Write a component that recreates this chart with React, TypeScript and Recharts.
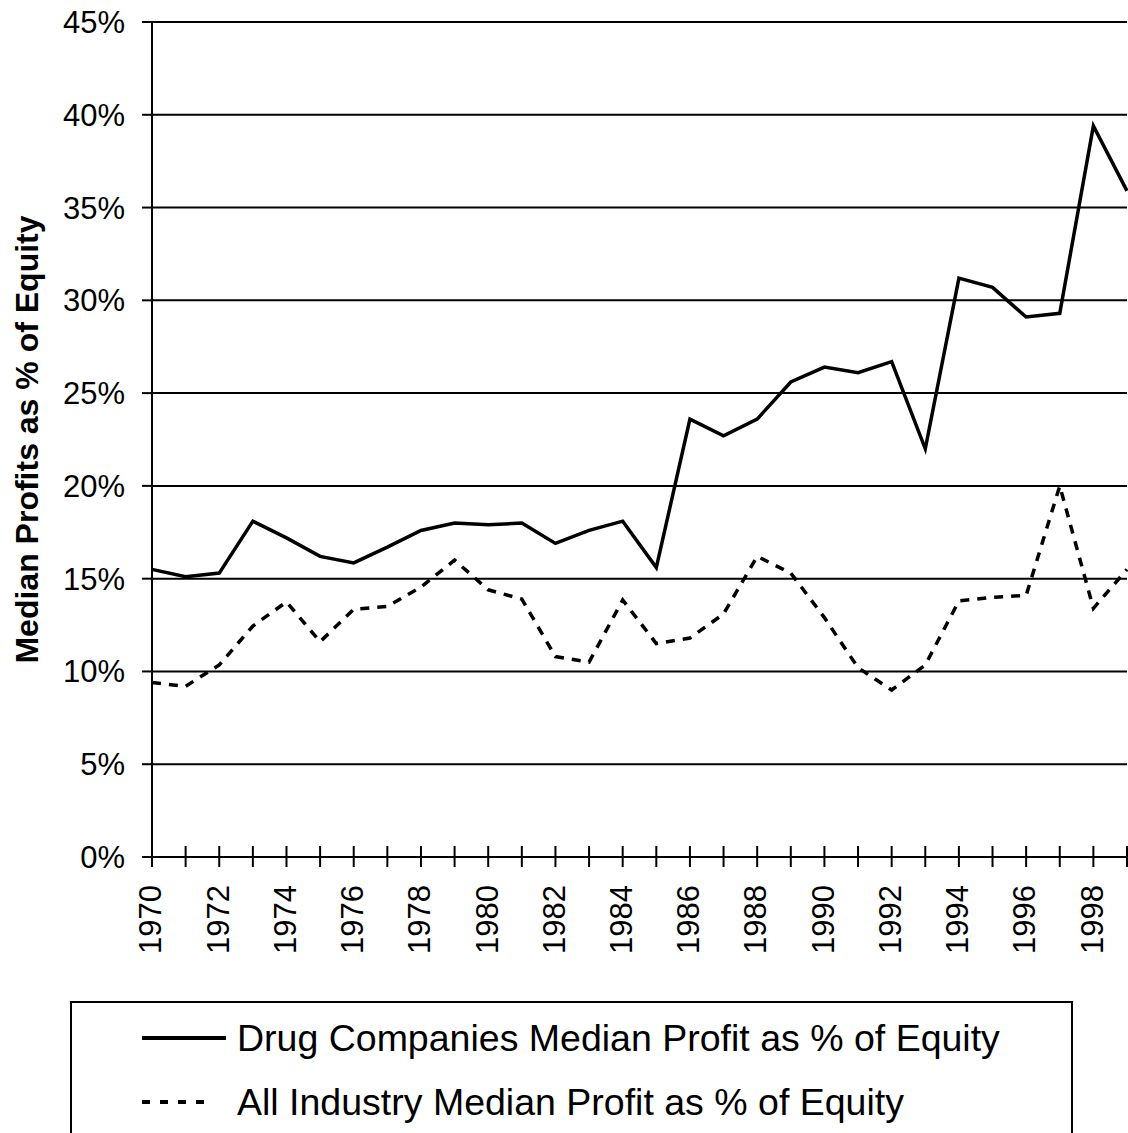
import React from 'react'
import { LineChart, Line, XAxis, YAxis, CartesianGrid } from 'recharts'

const years = [
  1970, 1971, 1972, 1973, 1974, 1975, 1976, 1977, 1978, 1979,
  1980, 1981, 1982, 1983, 1984, 1985, 1986, 1987, 1988, 1989,
  1990, 1991, 1992, 1993, 1994, 1995, 1996, 1997, 1998, 1999,
]

const drugProfit = [
  15.5, 15.1, 15.3, 18.1, 17.2, 16.2, 15.85, 16.7, 17.6, 18.0,
  17.9, 18.0, 16.9, 17.6, 18.1, 15.6, 23.6, 22.7, 23.6, 25.6,
  26.4, 26.1, 26.7, 22.0, 31.2, 30.7, 29.1, 29.3, 39.4, 35.9,
]

const industryProfit = [
  9.4, 9.2, 10.35, 12.45, 13.75, 11.6, 13.35, 13.5, 14.55, 16.0,
  14.4, 13.9, 10.8, 10.5, 13.85, 11.5, 11.8, 13.1, 16.2, 15.3,
  12.9, 10.2, 9.0, 10.35, 13.8, 14.0, 14.1, 20.0, 13.4, 15.5,
]

const yTicks = [0, 5, 10, 15, 20, 25, 30, 35, 40, 45]

const drugLabel = 'Drug Companies Median Profit as % of Equity'
const industryLabel = 'All Industry Median Profit as % of Equity'

const data = years.map((year, i) => ({
  year,
  drug: drugProfit[i],
  industry: industryProfit[i],
}))

const font = '"Liberation Sans", Arial, sans-serif'

const YearTick = (props: any) => {
  const { x, y, payload } = props
  const showLabel = payload.value % 2 === 0
  return (
    <g>
      <line x1={x} x2={x} y1={y - 11} y2={y + 10} stroke="#000" strokeWidth={2} />
      {showLabel && (
        <text
          x={x}
          y={y + 28}
          transform={`rotate(-90, ${x}, ${y + 28})`}
          textAnchor="end"
          dy="0.3em"
          fontSize={31}
          fontFamily={font}
          fill="#000"
        >
          {payload.value}
        </text>
      )}
    </g>
  )
}

const YTitle = (props: any) => {
  const { viewBox } = props
  const cy = viewBox.y + viewBox.height / 2
  return (
    <text
      x={27}
      y={cy}
      transform={`rotate(-90, 27, ${cy})`}
      textAnchor="middle"
      dominantBaseline="central"
      fontSize={32}
      fontWeight="bold"
      fontFamily={font}
      fill="#000"
    >
      Median Profits as % of Equity
    </text>
  )
}

const LegendRow = ({ dashed, label }: { dashed: boolean; label: string }) => (
  <div style={{ display: 'flex', alignItems: 'center', height: 64 }}>
    <svg width={84} height={10} style={{ marginLeft: 70, marginRight: 11 }}>
      <line
        x1={0}
        x2={dashed ? 62 : 84}
        y1={5}
        y2={5}
        stroke="#000"
        strokeWidth={4}
        strokeDasharray={dashed ? '8 10' : undefined}
      />
    </svg>
    <span style={{ fontSize: 37.5, fontFamily: font, color: '#000', whiteSpace: 'nowrap' }}>
      {label}
    </span>
  </div>
)

const App = () => {
  return (
    <div
      style={{
        position: 'absolute',
        left: 0,
        top: 0,
        width: 1128,
        height: 1133,
        overflow: 'hidden',
        background: '#fff',
      }}
    >
      <LineChart width={1128} height={1000} data={data} margin={{ top: 22, right: 1, bottom: 0, left: 0 }}>
        <CartesianGrid vertical={false} stroke="#000" strokeWidth={2} />
        <XAxis
          dataKey="year"
          interval={0}
          tickSize={0}
          tickMargin={0}
          tickLine={false}
          tick={<YearTick />}
          height={143}
          axisLine={{ stroke: '#000', strokeWidth: 2 }}
        />
        <YAxis
          domain={[0, 45]}
          ticks={yTicks}
          interval={0}
          width={152}
          tickSize={10}
          tickMargin={17}
          tickFormatter={(v) => `${v}%`}
          tick={{ fontSize: 31, fontFamily: font, fill: '#000' }}
          tickLine={{ stroke: '#000', strokeWidth: 2 }}
          axisLine={{ stroke: '#000', strokeWidth: 2 }}
          label={{ content: <YTitle /> }}
        />
        <Line
          type="linear"
          dataKey="industry"
          stroke="#000"
          strokeWidth={3.5}
          strokeDasharray="9 8"
          dot={false}
          isAnimationActive={false}
        />
        <Line
          type="linear"
          dataKey="drug"
          stroke="#000"
          strokeWidth={3.5}
          dot={false}
          isAnimationActive={false}
        />
      </LineChart>
      <div
        style={{
          position: 'absolute',
          left: 70,
          top: 1001,
          width: 1003,
          height: 160,
          border: '2px solid #000',
          boxSizing: 'border-box',
          paddingTop: 3,
        }}
      >
        <LegendRow dashed={false} label={drugLabel} />
        <LegendRow dashed={true} label={industryLabel} />
      </div>
    </div>
  )
}

export default App
